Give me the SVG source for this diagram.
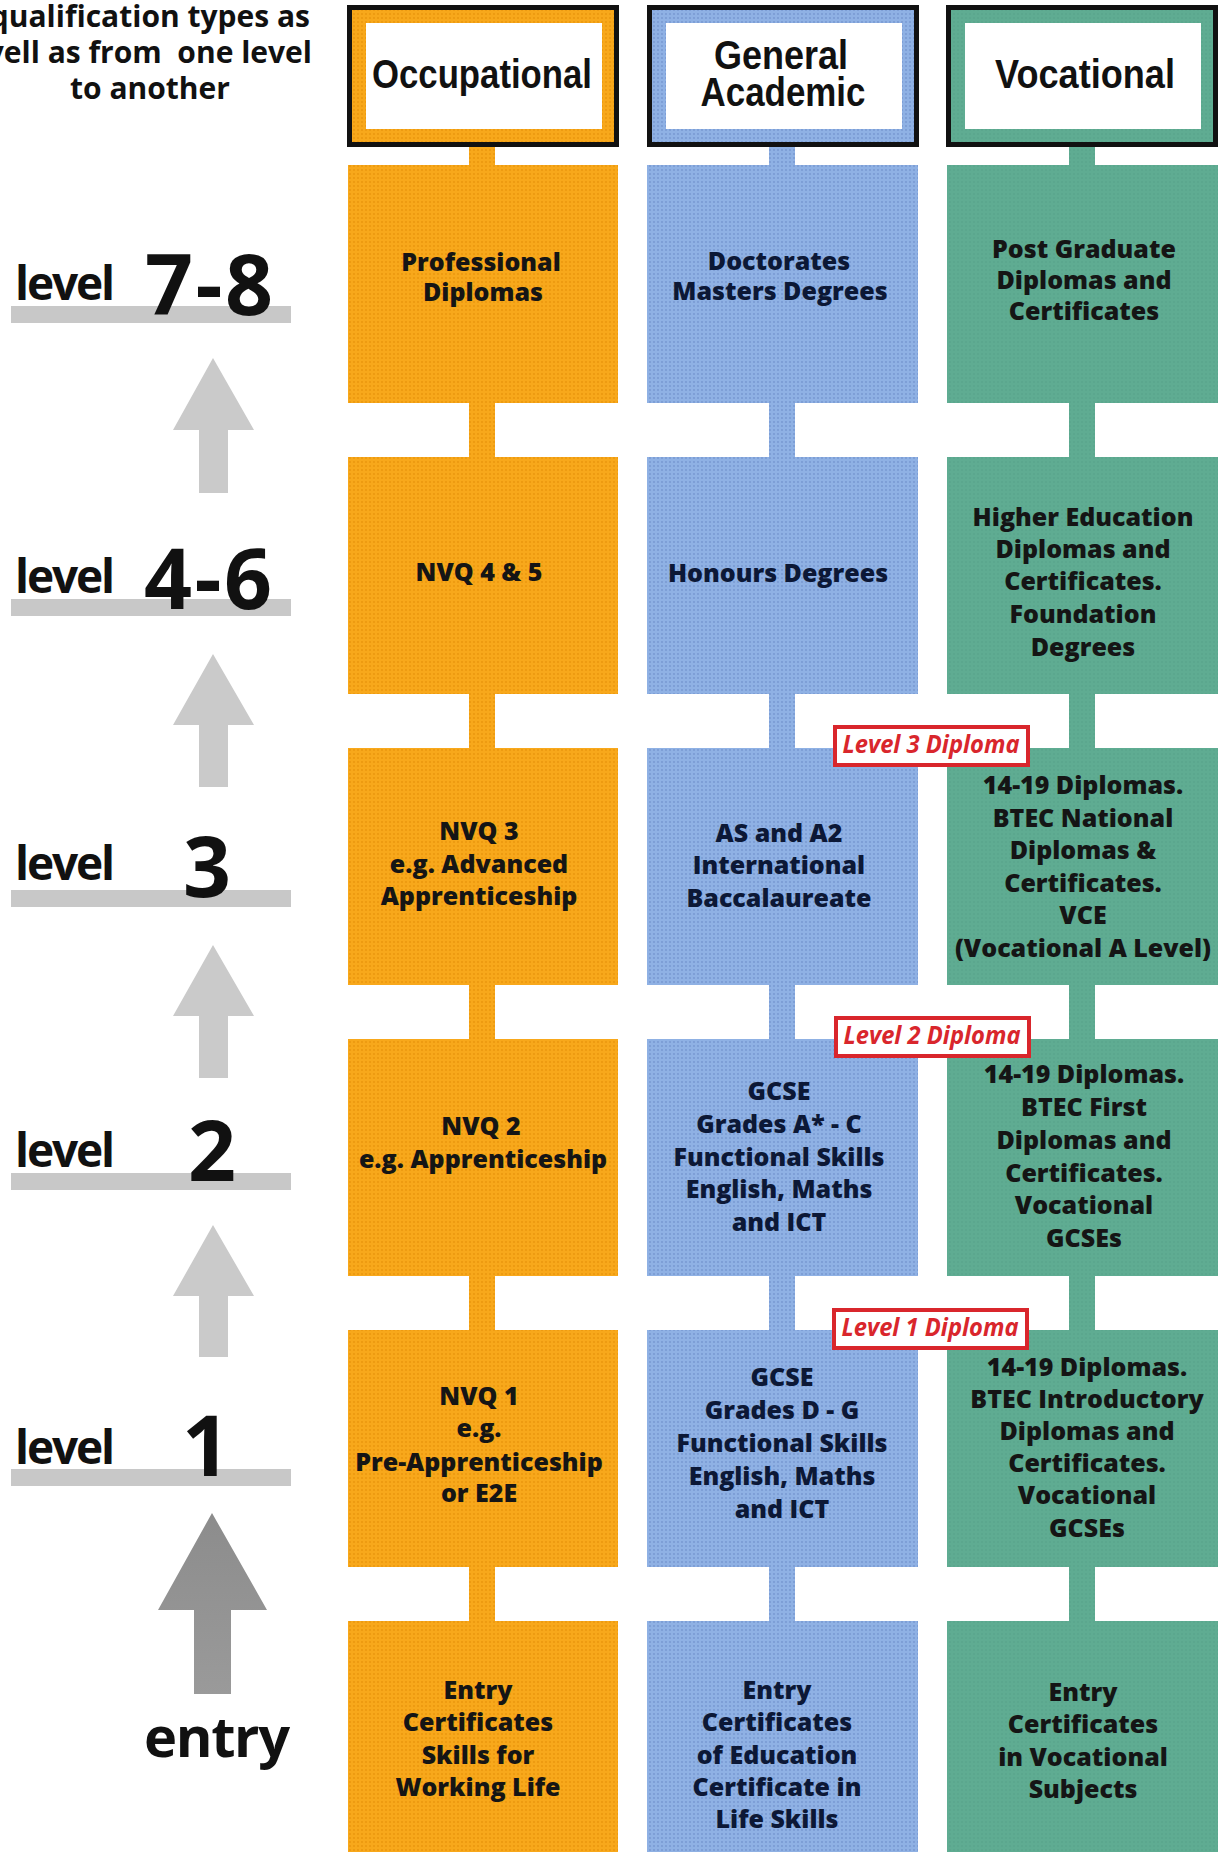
<svg xmlns="http://www.w3.org/2000/svg" width="1218" height="1852" viewBox="0 0 1218 1852">
<defs>
<style>
.t{font-family:"Open Sans","Noto Sans","DejaVu Sans",sans-serif;font-weight:800;font-size:25px;text-anchor:middle}
.to,.tg{fill:#151515}
.tb{fill:#0c1836}
.hd{font-family:"Liberation Sans",Arial,sans-serif;font-weight:700;font-size:41px;fill:#111;text-anchor:middle}
.lv{font-family:"Open Sans","Noto Sans",sans-serif;font-weight:700;fill:#111}
.intro{font-family:"Open Sans","Noto Sans",sans-serif;font-weight:700;font-size:30px;fill:#111}
.bar{fill:#c8c8c8}
.arw{fill:#cacaca}
.dbox{fill:#fff;stroke:#d9262c;stroke-width:4}
.dip{font-family:"Open Sans","Noto Sans",sans-serif;font-style:italic;font-weight:700;font-size:25px;fill:#d9262c;text-anchor:middle}
.blk{fill:#111}
.wht{fill:#fff}
</style>
<pattern id="po" width="4" height="4" patternUnits="userSpaceOnUse"><rect width="4" height="4" fill="#f8a81b"/><circle cx="2" cy="2" r="0.9" fill="#e9950c"/></pattern>
<pattern id="pb" width="4" height="4" patternUnits="userSpaceOnUse"><rect width="4" height="4" fill="#8fb1e4"/><circle cx="2" cy="2" r="0.9" fill="#7596d0"/></pattern>
<pattern id="pg" width="4" height="4" patternUnits="userSpaceOnUse"><rect width="4" height="4" fill="#5fac92"/><circle cx="2" cy="2" r="0.8" fill="#56a288"/></pattern>
<linearGradient id="dg" x1="0" y1="0" x2="0" y2="1"><stop offset="0" stop-color="#8c8c8c"/><stop offset="1" stop-color="#9a9a9a"/></linearGradient>
</defs>
<rect width="1218" height="1852" fill="#fff"/>

<g id="intro">
<text class="intro" x="310" y="27" text-anchor="end">qualification types as</text>
<text class="intro" x="312" y="63" text-anchor="end" xml:space="preserve">vell as from  one level</text>
<text class="intro" x="150" y="99" text-anchor="middle">to another</text>
</g>

<g id="level-scale">
<g id="level-78"><rect class="bar" x="11" y="306" width="280" height="17"/><text class="lv" x="15" y="300" font-size="46" textLength="100">level</text><text class="lv" x="145" y="315" font-size="84" textLength="128">7-8</text></g>
<g id="level-46"><rect class="bar" x="11" y="599" width="280" height="17"/><text class="lv" x="15" y="593" font-size="46" textLength="100">level</text><text class="lv" x="144" y="609" font-size="84" textLength="128">4-6</text></g>
<g id="level-3"><rect class="bar" x="11" y="890" width="280" height="17"/><text class="lv" x="15" y="880" font-size="46" textLength="100">level</text><text class="lv" x="207" y="897" font-size="84" text-anchor="middle">3</text></g>
<g id="level-2"><rect class="bar" x="11" y="1173" width="280" height="17"/><text class="lv" x="15" y="1167" font-size="46" textLength="100">level</text><text class="lv" x="212" y="1181" font-size="84" text-anchor="middle">2</text></g>
<g id="level-1"><rect class="bar" x="11" y="1469" width="280" height="17"/><text class="lv" x="15" y="1464" font-size="46" textLength="100">level</text><text class="lv" x="206" y="1476" font-size="84" text-anchor="middle">1</text></g>
<g id="level-entry"><text class="lv" x="144" y="1757" font-size="56" textLength="146">entry</text></g>
<g id="level-arrows">
<polygon class="arw" points="213,358 254,430 228,430 228,493 199,493 199,430 173,430"/>
<polygon class="arw" points="213,654 254,725 228,725 228,787 199,787 199,725 173,725"/>
<polygon class="arw" points="213,945 254,1016 228,1016 228,1078 199,1078 199,1016 173,1016"/>
<polygon class="arw" points="213,1225 254,1296 228,1296 228,1357 199,1357 199,1296 173,1296"/>
<polygon fill="url(#dg)" points="212,1513 267,1610 231,1610 231,1694 194,1694 194,1610 158,1610"/>
</g>
</g>

<g id="connectors">
<rect x="469" y="145" width="26" height="22" fill="url(#po)"/>
<rect x="469" y="402" width="26" height="57" fill="url(#po)"/>
<rect x="469" y="693" width="26" height="57" fill="url(#po)"/>
<rect x="469" y="984" width="26" height="57" fill="url(#po)"/>
<rect x="469" y="1275" width="26" height="57" fill="url(#po)"/>
<rect x="469" y="1566" width="26" height="57" fill="url(#po)"/>
<rect x="769" y="145" width="26" height="22" fill="url(#pb)"/>
<rect x="769" y="402" width="26" height="57" fill="url(#pb)"/>
<rect x="769" y="693" width="26" height="57" fill="url(#pb)"/>
<rect x="769" y="984" width="26" height="57" fill="url(#pb)"/>
<rect x="769" y="1275" width="26" height="57" fill="url(#pb)"/>
<rect x="769" y="1566" width="26" height="57" fill="url(#pb)"/>
<rect x="1069" y="145" width="26" height="22" fill="url(#pg)"/>
<rect x="1069" y="402" width="26" height="57" fill="url(#pg)"/>
<rect x="1069" y="693" width="26" height="57" fill="url(#pg)"/>
<rect x="1069" y="984" width="26" height="57" fill="url(#pg)"/>
<rect x="1069" y="1275" width="26" height="57" fill="url(#pg)"/>
<rect x="1069" y="1566" width="26" height="57" fill="url(#pg)"/>
</g>

<g id="hdr-occupational">
<rect class="blk" x="347" y="5" width="272" height="142"/>
<rect x="352" y="10" width="262" height="132" fill="url(#po)"/>
<rect class="wht" x="366" y="23" width="236" height="106"/>
<text class="hd" x="482" y="88" textLength="220" lengthAdjust="spacingAndGlyphs">Occupational</text>
</g>
<g id="hdr-general-academic">
<rect class="blk" x="647" y="5" width="272" height="142"/>
<rect x="652" y="10" width="262" height="132" fill="url(#pb)"/>
<rect class="wht" x="666" y="23" width="236" height="106"/>
<text class="hd" x="781" y="69" textLength="134" lengthAdjust="spacingAndGlyphs">General</text>
<text class="hd" x="783" y="106" textLength="165" lengthAdjust="spacingAndGlyphs">Academic</text>
</g>
<g id="hdr-vocational">
<rect class="blk" x="946" y="5" width="272" height="142"/>
<rect x="951" y="10" width="262" height="132" fill="url(#pg)"/>
<rect class="wht" x="965" y="23" width="236" height="106"/>
<text class="hd" x="1085" y="88" textLength="180" lengthAdjust="spacingAndGlyphs">Vocational</text>
</g>

<g id="occ-78"><rect x="348" y="165" width="270" height="238" fill="url(#po)"/>
<text class="t to"><tspan x="481" y="271">Professional</tspan><tspan x="483" y="301">Diplomas</tspan></text></g>
<g id="occ-46"><rect x="348" y="457" width="270" height="237" fill="url(#po)"/>
<text class="t to"><tspan x="479" y="581">NVQ 4 &amp; 5</tspan></text></g>
<g id="occ-3"><rect x="348" y="748" width="270" height="237" fill="url(#po)"/>
<text class="t to"><tspan x="479" y="840">NVQ 3</tspan><tspan x="479" y="873">e.g. Advanced</tspan><tspan x="479" y="905">Apprenticeship</tspan></text></g>
<g id="occ-2"><rect x="348" y="1039" width="270" height="237" fill="url(#po)"/>
<text class="t to"><tspan x="481" y="1135">NVQ 2</tspan><tspan x="483" y="1168">e.g. Apprenticeship</tspan></text></g>
<g id="occ-1"><rect x="348" y="1330" width="270" height="237" fill="url(#po)"/>
<text class="t to"><tspan x="479" y="1405">NVQ 1</tspan><tspan x="479" y="1437">e.g.</tspan><tspan x="479" y="1471">Pre-Apprenticeship</tspan><tspan x="479" y="1502">or E2E</tspan></text></g>
<g id="occ-entry"><rect x="348" y="1621" width="270" height="231" fill="url(#po)"/>
<text class="t to"><tspan x="478" y="1699">Entry</tspan><tspan x="478" y="1731">Certificates</tspan><tspan x="478" y="1764">Skills for</tspan><tspan x="478" y="1796">Working Life</tspan></text></g>

<g id="gen-78"><rect x="647" y="165" width="271" height="238" fill="url(#pb)"/>
<text class="t tb"><tspan x="779" y="270">Doctorates</tspan><tspan x="780" y="300">Masters Degrees</tspan></text></g>
<g id="gen-46"><rect x="647" y="457" width="271" height="237" fill="url(#pb)"/>
<text class="t tb"><tspan x="778" y="582">Honours Degrees</tspan></text></g>
<g id="gen-3"><rect x="647" y="748" width="271" height="237" fill="url(#pb)"/>
<text class="t tb"><tspan x="779" y="842">AS and A2</tspan><tspan x="779" y="874">International</tspan><tspan x="779" y="907">Baccalaureate</tspan></text></g>
<g id="gen-2"><rect x="647" y="1039" width="271" height="237" fill="url(#pb)"/>
<text class="t tb"><tspan x="779" y="1100">GCSE</tspan><tspan x="779" y="1133">Grades A* - C</tspan><tspan x="779" y="1166">Functional Skills</tspan><tspan x="779" y="1198">English, Maths</tspan><tspan x="779" y="1231">and ICT</tspan></text></g>
<g id="gen-1"><rect x="647" y="1330" width="271" height="237" fill="url(#pb)"/>
<text class="t tb"><tspan x="782" y="1386">GCSE</tspan><tspan x="782" y="1419">Grades D - G</tspan><tspan x="782" y="1452">Functional Skills</tspan><tspan x="782" y="1485">English, Maths</tspan><tspan x="782" y="1518">and ICT</tspan></text></g>
<g id="gen-entry"><rect x="647" y="1621" width="271" height="231" fill="url(#pb)"/>
<text class="t tb"><tspan x="777" y="1699">Entry</tspan><tspan x="777" y="1731">Certificates</tspan><tspan x="777" y="1764">of Education</tspan><tspan x="777" y="1796">Certificate in</tspan><tspan x="777" y="1828">Life Skills</tspan></text></g>

<g id="voc-78"><rect x="947" y="165" width="271" height="238" fill="url(#pg)"/>
<text class="t tg"><tspan x="1084" y="258">Post Graduate</tspan><tspan x="1084" y="289">Diplomas and</tspan><tspan x="1084" y="320">Certificates</tspan></text></g>
<g id="voc-46"><rect x="947" y="457" width="271" height="237" fill="url(#pg)"/>
<text class="t tg"><tspan x="1083" y="526">Higher Education</tspan><tspan x="1083" y="558">Diplomas and</tspan><tspan x="1083" y="590">Certificates.</tspan><tspan x="1083" y="623">Foundation</tspan><tspan x="1083" y="656">Degrees</tspan></text></g>
<g id="voc-3"><rect x="947" y="748" width="271" height="237" fill="url(#pg)"/>
<text class="t tg"><tspan x="1083" y="794">14-19 Diplomas.</tspan><tspan x="1083" y="827">BTEC National</tspan><tspan x="1083" y="859">Diplomas &amp;</tspan><tspan x="1083" y="892">Certificates.</tspan><tspan x="1083" y="924">VCE</tspan><tspan x="1083" y="957">(Vocational A Level)</tspan></text></g>
<g id="voc-2"><rect x="947" y="1039" width="271" height="237" fill="url(#pg)"/>
<text class="t tg"><tspan x="1084" y="1083">14-19 Diplomas.</tspan><tspan x="1084" y="1116">BTEC First</tspan><tspan x="1084" y="1149">Diplomas and</tspan><tspan x="1084" y="1182">Certificates.</tspan><tspan x="1084" y="1214">Vocational</tspan><tspan x="1084" y="1247">GCSEs</tspan></text></g>
<g id="voc-1"><rect x="947" y="1330" width="271" height="237" fill="url(#pg)"/>
<text class="t tg"><tspan x="1087" y="1376">14-19 Diplomas.</tspan><tspan x="1087" y="1408">BTEC Introductory</tspan><tspan x="1087" y="1440">Diplomas and</tspan><tspan x="1087" y="1472">Certificates.</tspan><tspan x="1087" y="1504">Vocational</tspan><tspan x="1087" y="1537">GCSEs</tspan></text></g>
<g id="voc-entry"><rect x="947" y="1621" width="271" height="231" fill="url(#pg)"/>
<text class="t tg"><tspan x="1083" y="1701">Entry</tspan><tspan x="1083" y="1733">Certificates</tspan><tspan x="1083" y="1766">in Vocational</tspan><tspan x="1083" y="1798">Subjects</tspan></text></g>

<g id="dip-3"><rect class="dbox" x="835" y="727" width="193" height="38"/><text class="dip" x="931" y="753" textLength="177" lengthAdjust="spacingAndGlyphs">Level 3 Diploma</text></g>
<g id="dip-2"><rect class="dbox" x="836" y="1018" width="193" height="38"/><text class="dip" x="932" y="1044" textLength="177" lengthAdjust="spacingAndGlyphs">Level 2 Diploma</text></g>
<g id="dip-1"><rect class="dbox" x="834" y="1310" width="193" height="38"/><text class="dip" x="930" y="1336" textLength="177" lengthAdjust="spacingAndGlyphs">Level 1 Diploma</text></g>
</svg>
